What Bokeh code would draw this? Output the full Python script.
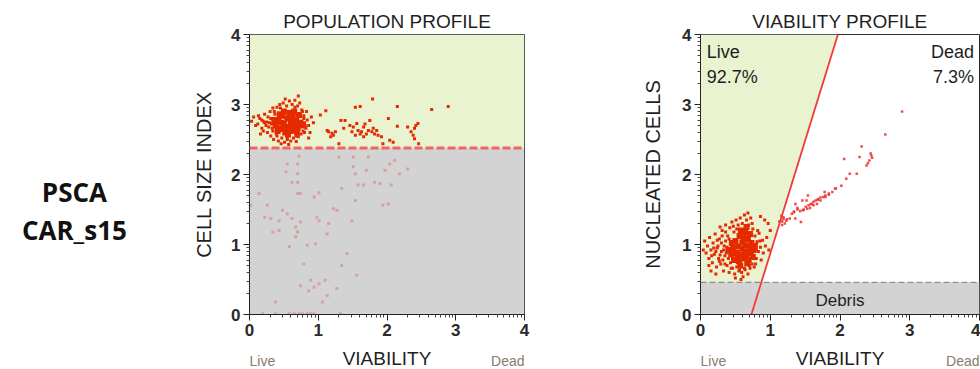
from bokeh.plotting import figure
from bokeh.layouts import row, column
from bokeh.models import FixedTicker, Label, Span
from bokeh.embed import file_html
from bokeh.resources import INLINE
from bokeh.core.properties import value
import math

# ---------------- data ----------------
row_label = ["PSCA", "CAR_s15"]
left_title = "POPULATION PROFILE"
right_title = "VIABILITY PROFILE"
x_title = "VIABILITY"
x_ends = ["Live", "Dead"]
ticks = [0, 1, 2, 3, 4]
tick_labels = ["0", "1", "2", "3", "4"]

size_gate = 2.38          # population profile gate (cell size index)
debris_gate = 0.46        # viability profile debris threshold
gate_line_x = [0.73, 1.97]  # viability gate line x at y=0 and y=4
gate_line_y = [0.0, 4.0]
live_pct = "92.7%"
dead_pct = "7.3%"

# population profile: dense core of cluster (above gate)
pop_core_x = [0.38, 0.42, 0.45, 0.48, 0.50, 0.52, 0.55, 0.57, 0.58, 0.60, 0.62, 0.63, 0.66, 0.68, 0.70,
              0.72, 0.74, 0.46, 0.53, 0.61, 0.65, 0.56, 0.69, 0.41, 0.36, 0.77, 0.50, 0.64, 0.59, 0.44]
pop_core_y = [2.70, 2.78, 2.65, 2.84, 2.72, 2.60, 2.80, 2.68, 2.88, 2.75, 2.63, 2.83, 2.71, 2.78, 2.66,
              2.85, 2.74, 2.74, 2.67, 2.70, 2.90, 2.57, 2.60, 2.62, 2.78, 2.70, 2.90, 2.77, 2.62, 2.86]
# population profile: scattered events above gate
pop_hi_x = [0.12, 0.15, 0.18, 0.20, 0.22, 0.24, 0.26, 0.27, 0.29, 0.30, 0.31, 0.33, 0.34, 0.35, 0.37, 0.39,
            0.40, 0.42, 0.44, 0.47, 0.49, 0.51, 0.54, 0.55, 0.58, 0.60, 0.62, 0.64, 0.66, 0.68, 0.70, 0.71,
            0.73, 0.75, 0.76, 0.78, 0.79, 0.80, 0.82, 0.83, 0.84, 0.86, 0.88, 0.90, 0.93, 0.71, 0.52, 0.03,
            0.06, 0.09, 0.16, 0.20, 0.86, 0.57, 0.46,
            0.25, 0.28, 0.31, 0.32, 0.34, 0.36, 0.40, 0.79, 0.81, 0.80, 0.77, 0.45, 0.66, 0.55, 0.68, 0.22,
            0.18, 0.13,
            1.11, 1.03, 1.13, 1.15, 1.20, 1.25, 1.18, 1.22, 1.33, 1.37, 1.39, 1.54, 1.61, 1.46, 1.51, 1.56,
            1.58, 1.63, 1.66, 1.68, 1.70, 1.73, 1.75, 1.78, 1.80, 1.82, 1.85, 1.87, 1.66, 1.61, 1.54, 1.49,
            1.79, 1.92, 1.94, 2.02, 2.04, 2.09, 2.15, 2.15, 2.30, 2.35, 2.38, 2.40, 2.42, 2.45, 2.40, 2.46,
            2.65, 2.89, 1.30]
pop_hi_y = [2.72, 2.80, 2.66, 2.76, 2.86, 2.70, 2.60, 2.82, 2.74, 2.90, 2.55, 2.66, 2.95, 2.50, 2.86, 2.58,
            2.96, 2.48, 3.00, 2.52, 3.02, 2.46, 2.98, 2.50, 3.05, 2.48, 3.00, 2.52, 3.06, 2.47, 2.98, 2.54,
            3.02, 2.58, 2.92, 2.62, 2.84, 2.74, 2.66, 2.90, 2.78, 2.70, 2.60, 2.82, 2.74, 3.12, 3.08, 2.76,
            2.82, 2.70, 2.58, 2.62, 2.52, 2.43, 2.44,
            2.75, 2.68, 2.80, 2.72, 2.62, 2.90, 2.55, 2.80, 2.70, 2.60, 2.90, 2.95, 2.96, 2.52, 2.55, 2.74,
            2.78, 2.84,
            2.91, 2.85, 2.63, 2.61, 2.59, 2.61, 2.54, 2.56, 2.77, 2.66, 2.77, 2.96, 2.97, 2.70, 2.68, 2.73,
            2.63, 2.61, 2.68, 2.72, 2.58, 2.63, 2.77, 2.61, 2.66, 2.58, 2.63, 2.56, 2.54, 2.58, 2.56, 2.61,
            3.08, 2.54, 2.44, 2.80, 2.49, 2.46, 2.97, 2.69, 2.68, 2.61, 2.56, 2.66, 2.70, 2.73, 2.51, 2.44,
            2.93, 2.97, 2.44]
# population profile: events below gate (excluded, faded)
pop_lo_x = [0.72, 0.55, 0.62, 0.70, 0.74, 0.70, 1.01, 0.94, 0.14, 0.26, 0.22, 0.31, 0.34, 0.43, 0.43, 0.48,
            0.55, 0.62, 0.67, 0.70, 0.67, 0.58, 0.74, 0.84, 0.96, 0.98, 1.01, 1.15, 1.13, 1.22, 1.27, 1.34,
            1.42, 1.34, 1.56, 0.79, 0.89, 0.74, 0.86, 0.94, 1.01, 1.06, 1.13, 1.10, 1.27, 0.38, 0.02, 0.70,
            0.53, 0.70, 1.51, 1.51, 1.54, 1.58, 1.66, 1.70, 1.82, 1.90, 1.97, 2.04, 2.06, 2.11, 2.18, 2.30,
            1.54, 1.94, 2.02, 1.49, 1.73, 1.30, 0.19, 0.38, 0.58, 0.65, 0.72, 0.77, 0.84, 0.89, 0.94, 1.32]
pop_lo_y = [2.26, 2.15, 1.89, 1.89, 1.73, 1.73, 1.74, 1.68, 1.73, 1.56, 1.39, 1.37, 1.18, 1.34, 1.20, 1.49,
            1.44, 1.37, 1.25, 1.18, 1.11, 0.97, 1.32, 0.99, 1.01, 1.39, 1.34, 1.30, 1.15, 1.51, 1.49, 1.80,
            0.87, 0.70, 0.56, 0.72, 0.49, 0.41, 0.34, 0.39, 0.44, 0.18, 0.27, 0.49, 0.37, 0.18, 1.56, 2.15,
            2.04, 2.01, 2.25, 2.11, 2.01, 1.85, 1.85, 2.06, 1.89, 1.87, 2.06, 2.15, 1.85, 2.20, 2.01, 2.08,
            1.63, 1.56, 1.58, 1.34, 2.25, 2.25, 0.01, 0.01, 0.01, 0.01, 0.01, 0.01, 0.01, 0.01, 0.01, 0.01]

# viability profile: live cluster core
via_core_x = [0.44, 0.47, 0.48, 0.50, 0.52, 0.54, 0.55, 0.56, 0.58, 0.60, 0.60, 0.62, 0.63, 0.64, 0.65, 0.66,
              0.68, 0.69, 0.70, 0.72, 0.73, 0.75, 0.76, 0.57, 0.45, 0.62, 0.67, 0.53, 0.71, 0.78, 0.40, 0.58, 0.66]
via_core_y = [0.86, 0.95, 0.78, 1.05, 0.88, 0.97, 0.76, 1.12, 0.85, 0.94, 1.03, 0.80, 0.90, 1.18, 0.99, 0.86,
              1.08, 0.78, 0.95, 0.88, 1.02, 0.82, 0.92, 0.70, 1.02, 1.10, 0.73, 0.82, 1.15, 0.98, 0.92, 1.20, 1.25]
# viability profile: live cluster halo
via_live_x = [0.04, 0.06, 0.08, 0.10, 0.12, 0.13, 0.15, 0.17, 0.18, 0.20, 0.21, 0.23, 0.24, 0.26, 0.27, 0.29,
              0.30, 0.31, 0.33, 0.34, 0.35, 0.36, 0.38, 0.39, 0.41, 0.42, 0.43, 0.45, 0.46, 0.48, 0.49, 0.51,
              0.52, 0.54, 0.55, 0.57, 0.59, 0.60, 0.61, 0.63, 0.64, 0.66, 0.68, 0.69, 0.71, 0.72, 0.74, 0.75,
              0.77, 0.78, 0.80, 0.81, 0.83, 0.84, 0.86, 0.87, 0.89, 0.90, 0.93, 0.95, 0.97, 0.98, 0.86, 0.15,
              0.22, 0.50, 0.68, 1.00, 0.92, 0.28, 0.12, 0.58,
              0.22, 0.25, 0.28, 0.30, 0.32, 0.33, 0.36, 0.37, 0.38, 0.40, 0.41, 0.43, 0.35, 0.31, 0.27, 0.19,
              0.16, 0.24, 0.80, 0.82, 0.79, 0.85, 0.74, 0.52, 0.47, 0.56, 0.63, 0.70, 0.44, 0.36]
via_live_y = [0.92, 1.05, 0.88, 0.98, 0.80, 1.10, 0.92, 0.74, 1.02, 0.86, 1.15, 0.68, 0.95, 0.80, 1.08, 0.72,
              0.90, 1.20, 0.62, 0.98, 0.84, 1.28, 0.70, 1.12, 0.60, 1.24, 0.74, 1.32, 0.66, 1.18, 0.58, 1.35,
              0.68, 1.28, 0.62, 1.38, 0.60, 1.30, 0.54, 1.42, 0.64, 1.35, 0.58, 1.28, 0.66, 1.38, 0.72, 1.22,
              0.68, 1.12, 0.80, 1.04, 0.90, 1.16, 0.96, 0.78, 1.06, 0.88, 0.98, 1.10, 1.30, 0.92, 1.40, 0.62,
              0.58, 0.52, 1.45, 1.20, 1.35, 1.25, 0.70, 0.50,
              0.90, 0.98, 0.85, 1.02, 0.78, 0.92, 1.05, 0.88, 0.96, 0.80, 1.08, 0.90, 0.72, 1.12, 0.76, 0.95,
              0.84, 1.06, 0.92, 1.20, 0.72, 1.05, 1.30, 1.22, 1.26, 0.64, 0.66, 0.70, 0.66, 1.18]
# viability profile: dead events
via_dead_x = [1.16, 1.19, 1.24, 1.13, 1.21, 1.17, 1.23, 1.19, 1.17, 1.28, 1.31, 1.34, 1.39, 1.43, 1.47,
              1.51, 1.53, 1.55, 1.58, 1.62, 1.65, 1.68, 1.72, 1.76, 1.79, 1.84, 1.89, 1.94, 1.36, 1.46,
              1.44, 1.36, 1.34, 1.39, 1.48, 1.57, 1.62, 1.67, 1.72, 1.79, 1.52, 1.60, 1.69, 1.54, 1.78,
              1.84, 1.93, 2.02, 2.09, 2.14, 2.24, 2.06, 2.28, 2.31, 2.44, 2.46, 2.42, 2.38, 2.45, 2.40,
              2.65, 2.89]
via_dead_y = [1.41, 1.36, 1.36, 1.33, 1.30, 1.28, 1.34, 1.39, 1.33, 1.37, 1.44, 1.46, 1.50, 1.48, 1.49,
              1.54, 1.51, 1.56, 1.58, 1.61, 1.63, 1.64, 1.67, 1.68, 1.70, 1.73, 1.75, 1.80, 1.58, 1.63,
              1.32, 1.37, 1.47, 1.52, 1.50, 1.52, 1.56, 1.58, 1.63, 1.68, 1.63, 1.58, 1.65, 1.70, 1.75,
              1.71, 1.80, 1.84, 1.94, 2.01, 2.01, 2.22, 2.25, 2.40, 2.30, 2.24, 2.20, 2.13, 2.27, 2.16,
              2.57, 2.90]

# ---------------- style / layout ----------------
FONT = "Liberation Sans"
TXT = "#1f1f1f"
GREEN = "#e9f3d0"
GREY = "#d3d3d3"
RED = "#e62a00"
PLOT_H = 344    # title/top border 34 + frame 280 + bottom axis 30
BOT_H = 25      # bottom text strip
minor = [d + math.log10(k) for d in range(4) for k in range(2, 10)]


def strip(width, bl, br, h, xr):
    s = figure(width=width, height=h, x_range=xr, y_range=(0, h), output_backend="svg",
               toolbar_location=None, x_axis_location=None, y_axis_location=None, title=None,
               min_border_left=bl, min_border_right=br, min_border_top=0, min_border_bottom=0)
    s.grid.visible = False
    s.outline_line_color = None
    return s


def panel(width, bl, br, ylabel, ystand, title):
    p = figure(width=width, height=PLOT_H, x_range=(0, 4), y_range=(0, 4),
               output_backend="svg", toolbar_location=None,
               min_border_left=bl, min_border_right=br,
               min_border_top=34, min_border_bottom=30)
    p.title.text = title
    p.title.align = "center"
    p.title.text_font = FONT
    p.title.text_font_size = "19px"
    p.title.text_font_style = "normal"
    p.title.text_color = TXT
    p.title.standoff = 5
    p.grid.visible = False
    p.outline_line_color = "#2b2b2b"
    p.outline_line_width = 1
    for ax in (p.xaxis[0], p.yaxis[0]):
        ax.ticker = FixedTicker(ticks=ticks, minor_ticks=minor)
        ax.major_label_overrides = {t: l for t, l in zip(ticks, tick_labels)}
        ax.major_tick_out = 6
        ax.major_tick_in = 0
        ax.minor_tick_out = 3
        ax.minor_tick_in = 0
        ax.major_tick_line_color = "#222222"
        ax.minor_tick_line_color = "#444444"
        ax.axis_line_color = "#222222"
        ax.major_label_text_font = FONT
        ax.major_label_text_font_size = "17px"
        ax.major_label_text_font_style = "bold"
        ax.major_label_text_color = "#2a2a2a"
        ax.major_label_standoff = 3
    p.yaxis.axis_label = ylabel
    p.yaxis.axis_label_text_font = FONT
    p.yaxis.axis_label_text_font_size = "20px"
    p.yaxis.axis_label_text_font_style = "normal"
    p.yaxis.axis_label_text_color = TXT
    p.yaxis.axis_label_standoff = ystand

    bot = strip(width, bl, br, BOT_H, p.x_range)
    bot.text(x=[2], y=[11], text=[x_title], text_align="center", text_baseline="middle",
             text_font=value(FONT), text_font_size="19px", text_color=TXT)
    bot.text(x=[0.0], y=[9], text=[x_ends[0]], text_align="left", text_baseline="middle",
             text_font=value(FONT), text_font_size="14px", text_color="#8a7a6c")
    bot.text(x=[4.0], y=[9], text=[x_ends[1]], text_align="right", text_baseline="middle",
             text_font=value(FONT), text_font_size="14px", text_color="#8a7a6c")
    return p, column(p, bot, spacing=0)


# ---------- row label ----------
pl = figure(width=190, height=PLOT_H + BOT_H, x_range=(0, 1), y_range=(0, 1),
            output_backend="svg", toolbar_location=None, x_axis_location=None,
            y_axis_location=None, min_border=0, title=None)
pl.grid.visible = False
pl.outline_line_color = None
pl.text(x=[0.389, 0.389], y=[0.480, 0.377], text=row_label, text_align="center",
        text_baseline="middle", text_font=value("Open Sans"), text_font_size="26px",
        text_font_style="bold", text_color="#111111")

# ---------- population profile ----------
p1, col1 = panel(370, 57, 36, "CELL SIZE INDEX", 13, left_title)
p1.quad(left=[0], right=[4], bottom=[0], top=[size_gate], fill_color=GREY, line_color=None)
p1.quad(left=[0], right=[4], bottom=[size_gate], top=[4], fill_color=GREEN, line_color=None)
p1.scatter(pop_lo_x, pop_lo_y, marker="square", size=3, fill_color="#e04848", line_color=None,
           fill_alpha=0.35)
p1.scatter(pop_hi_x, pop_hi_y, marker="square", size=3, fill_color=RED, line_color=None)
p1.scatter(pop_core_x, pop_core_y, marker="square", size=6, fill_color=RED, line_color=None)
p1.add_layout(Span(location=size_gate, dimension="width", line_color="#f06464", line_width=3,
                   line_dash="8 3"))

# ---------- viability profile ----------
p2, col2 = panel(420, 140, 1, "NUCLEATED CELLS", 15, right_title)
slope = (gate_line_x[1] - gate_line_x[0]) / (gate_line_y[1] - gate_line_y[0])
xg_debris = gate_line_x[0] + slope * debris_gate
p2.patch(x=[0, xg_debris, gate_line_x[1], 0], y=[debris_gate, debris_gate, 4, 4],
         fill_color=GREEN, line_color=None)
p2.quad(left=[0], right=[4], bottom=[0], top=[debris_gate], fill_color=GREY, line_color=None)
p2.add_layout(Span(location=debris_gate, dimension="width", line_color="#7a7a7a", line_width=1,
                   line_dash="6 3"))
p2.scatter(via_live_x, via_live_y, marker="square", size=3, fill_color=RED, line_color=None)
p2.scatter(via_core_x, via_core_y, marker="square", size=6, fill_color=RED, line_color=None)
p2.scatter(via_dead_x, via_dead_y, marker="square", size=2.5, fill_color="#f02a2a", line_color=None,
           fill_alpha=0.85)
p2.line(gate_line_x, gate_line_y, line_color="#f03a3a", line_width=1.8)
for txt, xx, yy, al in [("Live", 0.09, 3.75, "left"), (live_pct, 0.09, 3.40, "left"),
                        ("Dead", 3.92, 3.75, "right"), (dead_pct, 3.92, 3.40, "right")]:
    p2.add_layout(Label(x=xx, y=yy, text=txt, text_align=al, text_baseline="middle",
                        text_font=FONT, text_font_size="18px", text_color=TXT))
p2.add_layout(Label(x=2, y=0.2, text="Debris", text_align="center", text_baseline="middle",
                    text_font=FONT, text_font_size="17px", text_color=TXT))

layout = row(pl, col1, col2, spacing=0)
open("out.html", "w").write(file_html(layout, INLINE))
